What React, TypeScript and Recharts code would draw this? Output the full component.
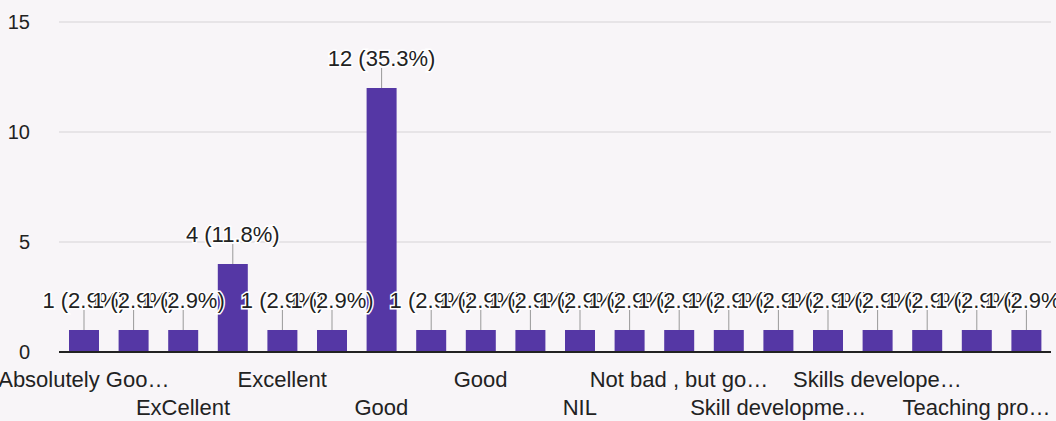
import React from 'react'
import { BarChart, Bar, XAxis, YAxis, CartesianGrid, LabelList } from 'recharts'

// responses in sheet order; only every other name is printed under the axis
const categories = [
  'Absolutely Goo…',
  'Best',
  'ExCellent',
  'Excellent',
  'Excellent',
  'Fine',
  'Good',
  'Good',
  'Good',
  'Good experience',
  'NIL',
  'Nice',
  'Not bad , but go…',
  'Satisfied',
  'Skill developme…',
  'Skill development',
  'Skills develope…',
  'Superb',
  'Teaching pro…',
  'Very good',
]
const counts = [1, 1, 1, 4, 1, 1, 12, 1, 1, 1, 1, 1, 1, 1, 1, 1, 1, 1, 1, 1]
const yTicks = [0, 5, 10, 15]

const total = counts.reduce((a, b) => a + b, 0)
const data = categories.map((name, i) => ({ name, idx: i, count: counts[i] }))

const FONT = '"Liberation Sans", Arial, sans-serif'
const INK = '#222'
const BAR = '#5537a5'

function CategoryTick(props: any) {
  const { x, y, index, payload } = props
  const i = payload?.index ?? index
  if (i % 2 === 1) return null
  const row = (i / 2) % 2
  return (
    <text
      x={x}
      y={y + (row === 0 ? 27 : 55)}
      textAnchor="middle"
      fill={INK}
      fontSize={22}
      fontFamily={FONT}
    >
      {payload.value}
    </text>
  )
}

function CountTick(props: any) {
  const { y, payload } = props
  return (
    <text x={30} y={y + 7} textAnchor="end" fill={INK} fontSize={20} fontFamily={FONT}>
      {payload.value}
    </text>
  )
}

function BarLabel(props: any) {
  const { x, y, width, value } = props
  const cx = x + width / 2
  const pct = ((value / total) * 100).toFixed(1)
  return (
    <g>
      <line x1={cx} x2={cx} y1={y - 20} y2={y} stroke="#999" strokeWidth={1} />
      <text
        x={cx}
        y={y - 22}
        textAnchor="middle"
        fill={INK}
        fontSize={22}
        fontFamily={FONT}
        stroke="#fff"
        strokeWidth={3}
        paintOrder="stroke"
      >
        {`${value} (${pct}%)`}
      </text>
    </g>
  )
}

export default function App() {
  return (
    <div style={{ position: 'fixed', left: 0, top: 0, width: 1056, height: 421, background: '#f8f5f8' }}>
      <BarChart
        width={1056}
        height={421}
        data={data}
        margin={{ top: 22, right: 5, left: 0, bottom: 0 }}
        barSize={30}
      >
        <CartesianGrid vertical={false} stroke="#d6d3d6" />
        <XAxis
          dataKey="name"
          interval={0}
          height={69}
          tickLine={false}
          axisLine={{ stroke: INK, strokeWidth: 2 }}
          tick={<CategoryTick />}
        />
        <YAxis
          width={59}
          domain={[0, 15]}
          ticks={yTicks}
          axisLine={false}
          tickLine={false}
          tick={<CountTick />}
        />
        <Bar dataKey="count" fill={BAR} isAnimationActive={false}>
          <LabelList dataKey="count" content={<BarLabel />} />
        </Bar>
      </BarChart>
    </div>
  )
}
